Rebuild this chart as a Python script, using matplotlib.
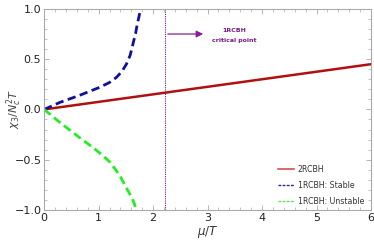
import numpy as np
import matplotlib.pyplot as plt
from matplotlib.ticker import MultipleLocator
from matplotlib.lines import Line2D

# 2RCBH line
mu_2 = [0, 6]
chi_2 = [0, 0.45]
# 1RCBH stable branch
mu_stable = [0, 0.29, 0.65, 1.02, 1.2, 1.33, 1.43, 1.51, 1.58, 1.63, 1.68, 1.71, 1.74, 1.77]
chi_stable = [0, 0.07, 0.14, 0.22, 0.268, 0.32, 0.38, 0.45, 0.54, 0.65, 0.76, 0.85, 0.92, 1.0]
# 1RCBH unstable branch
mu_unstable = [0, 0.29, 0.65, 0.9, 1.08, 1.2, 1.3, 1.4, 1.48, 1.55, 1.61, 1.65, 1.69]
chi_unstable = [0, -0.13, -0.28, -0.38, -0.46, -0.52, -0.59, -0.67, -0.75, -0.82, -0.88, -0.93, -1.0]
mu_crit = 2.22

fig = plt.figure(figsize=(3.74, 2.47), dpi=100)
ax = fig.add_axes([0.118, 0.150, 0.874, 0.814])

ax.plot(mu_2, chi_2, color='#b01010', lw=1.8)
ax.plot(mu_stable, chi_stable, color='#1010a0', lw=2.0, ls=(0, (3, 1.6)))
ax.plot(mu_unstable, chi_unstable, color='#22ee22', lw=2.0, ls=(0, (3, 1.6)))
ax.axvline(mu_crit, color='#6a1a8a', lw=0.8, ls=(0, (1, 1)))

ax.annotate('', xy=(2.97, 0.75), xytext=(mu_crit, 0.75),
            arrowprops=dict(arrowstyle='-|>', color='#8a1a9a', lw=0.9,
                            mutation_scale=10))
ax.text(3.49, 0.79, '1RCBH', color='#7a1a8a', fontsize=4.5, fontweight='bold',
        ha='center', va='center')
ax.text(3.49, 0.69, 'critical point', color='#7a1a8a', fontsize=4.5, fontweight='bold',
        ha='center', va='center')

ax.set_xlim(0, 6)
ax.set_ylim(-1, 1)
ax.xaxis.set_major_locator(MultipleLocator(1))
ax.xaxis.set_minor_locator(MultipleLocator(0.2))
ax.yaxis.set_major_locator(MultipleLocator(0.5))
ax.yaxis.set_minor_locator(MultipleLocator(0.1))
ax.tick_params(which='both', direction='in', top=True, right=True, colors='#aaaaaa',
               labelcolor='#222222', labelsize=8, pad=2)
ax.tick_params(which='major', length=3.5, width=0.6)
ax.tick_params(which='minor', length=2, width=0.5)
ax.yaxis.set_major_formatter(plt.FuncFormatter(lambda v, p: f'{v:.1f}'.replace('-', '\u2212')))
for s in ax.spines.values():
    s.set_color('#aaaaaa')
    s.set_linewidth(0.8)

ax.set_xlabel(r'$\mu/T$', fontsize=8.5, color='#333333', labelpad=1)
ax.set_ylabel(r'$\chi_3/N_c^2T$', fontsize=8, color='#444444')
ax.yaxis.set_label_coords(-0.062, 0.5)

handles = [Line2D([], [], color='#d05050', lw=1.2),
           Line2D([], [], color='#2020b0', lw=1.0, ls=(0, (2, 1))),
           Line2D([], [], color='#50f050', lw=1.0, ls=(0, (2, 1)))]
labels = ['2RCBH', '1RCBH: Stable', '1RCBH: Unstable']
ax.legend(handles, labels, loc='lower right', fontsize=5.7, frameon=False,
          handlelength=2.0, handletextpad=0.5, labelspacing=0.9,
          bbox_to_anchor=(1.0, -0.015), labelcolor='#333333')

fig.savefig('out.png', dpi=100)
